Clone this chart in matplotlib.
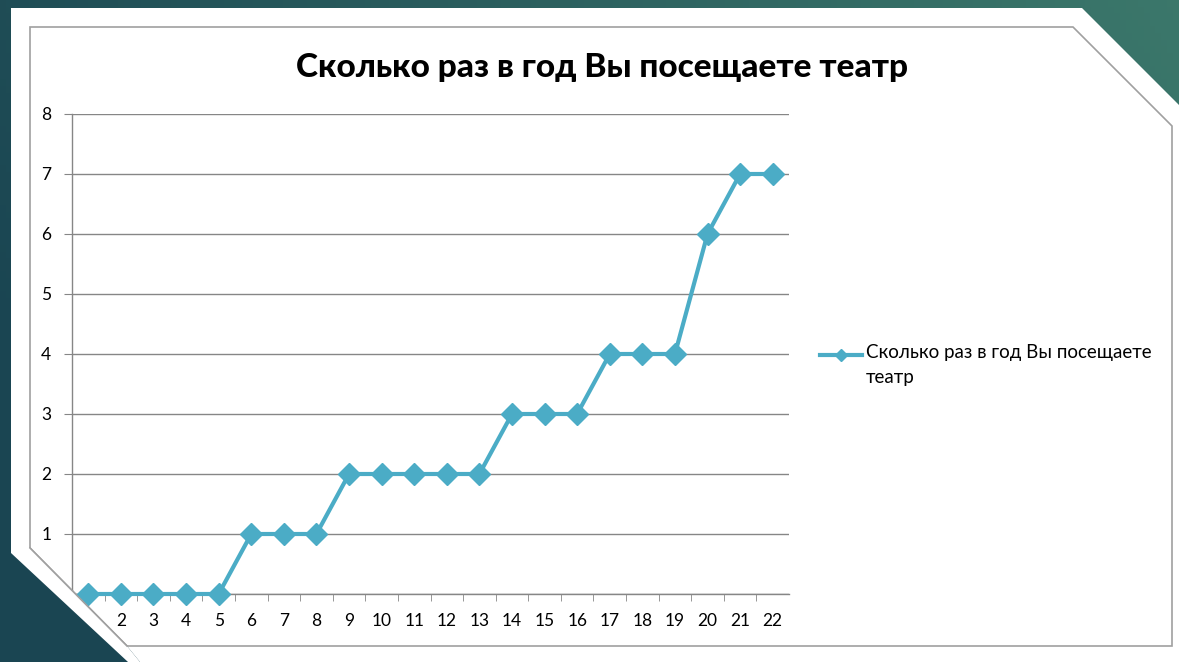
import matplotlib
matplotlib.use("Agg")
import matplotlib.pyplot as plt
import numpy as np
from matplotlib.patches import Polygon

plt.rcParams["font.family"] = ["Lato", "DejaVu Sans"]

TITLE = "Сколько раз в год Вы посещаете театр"
LEGEND_LABEL = "Сколько раз в год Вы посещаете\nтеатр"
categories = [str(i) for i in range(1, 23)]
visits = [0, 0, 0, 0, 0, 1, 1, 1, 2, 2, 2, 2, 2, 3, 3, 3, 4, 4, 4, 6, 7, 7]
yticks = [0, 1, 2, 3, 4, 5, 6, 7, 8]

W, H = 1179, 662
LINE = "#4bacc6"
GRID = "#868686"
EDGE = "#a0a0a0"

fig = plt.figure(figsize=(W / 100, H / 100), dpi=100)

# teal gradient used for the slide background
gx = np.linspace(0, 1, 200)
gy = np.linspace(0, 1, 100)
GX, GY = np.meshgrid(gx, gy)
t = np.clip(0.8 * GX - 0.3 * GY + 0.15, 0, 1)
c0 = np.array([0x1a, 0x45, 0x52]) / 255
c1 = np.array([0x3d, 0x7a, 0x6c]) / 255
img = c0[None, None, :] * (1 - t[..., None]) + c1[None, None, :] * t[..., None]

slide_pts = [(11, 8), (1082, 8), (1179, 105), (1179, 662), (128, 662), (11, 553)]
frame_pts = [(30, 27), (1073, 27), (1172, 126), (1172, 646), (127, 646), (30, 548)]


def pixel_axes(z):
    a = fig.add_axes([0, 0, 1, 1], zorder=z)
    a.set_xlim(0, W)
    a.set_ylim(H, 0)
    a.axis("off")
    a.patch.set_visible(False)
    return a


bg = pixel_axes(0)
bg.imshow(img, extent=[0, W, H, 0], aspect="auto", zorder=0)
bg.add_patch(Polygon(slide_pts, closed=True, fc="white", ec="none", zorder=1))
bg.add_patch(Polygon(frame_pts, closed=True, fc="white", ec=EDGE, lw=1.2, zorder=2))

# legend drawn by hand so the marker sits on the first text line
bg.plot([820, 862], [355, 355], color=LINE, lw=3, zorder=3)
bg.plot([841], [355], marker="D", ms=6.5, color=LINE, zorder=3)
bg.text(866, 344, LEGEND_LABEL, ha="left", va="top", fontsize=13.5,
        linespacing=1.55, zorder=3)

# plot area
x0, x1, ytop, ybot = 72, 789, 114, 594
ax = fig.add_axes([x0 / W, (H - ybot) / H, (x1 - x0) / W, (ybot - ytop) / H], zorder=1)
ax.set_facecolor("none")
xs = np.arange(len(categories))
ax.plot(xs, visits, color=LINE, lw=3, marker="D", ms=11.5, mfc=LINE, mec=LINE,
        zorder=5, clip_on=False)
ax.set_xlim(-0.5, len(categories) - 0.5)
ax.set_ylim(0, 8)
ax.set_yticks(yticks)
ax.set_xticks(xs)
ax.set_xticklabels(categories)
ax.set_xticks(np.arange(0.5, len(categories) - 0.5, 1), minor=True)
ax.tick_params(axis="x", which="major", length=0, pad=14, labelsize=12.5)
ax.tick_params(axis="x", which="minor", length=5, color=GRID, direction="out")
ax.tick_params(axis="y", length=6, color=GRID, pad=9, labelsize=12.5)
ax.grid(axis="y", color=GRID, lw=1)
ax.set_axisbelow(True)
for s in ["top", "right"]:
    ax.spines[s].set_visible(False)
for s in ["left", "bottom"]:
    ax.spines[s].set_color(GRID)
    ax.spines[s].set_linewidth(1)

fig.text(602 / W, 1 - 67 / H, TITLE, ha="center", va="center",
         fontsize=24, fontweight="black")

# the frame's cut bottom-left corner hides whatever lies beyond it
ov = pixel_axes(5)
corner = Polygon([(0, 548), (30, 548), (127, 646), (140, 662), (0, 662)],
                 closed=True, transform=ov.transData)
im = ov.imshow(img, extent=[0, W, H, 0], aspect="auto", zorder=0)
im.set_clip_path(corner)
sl = ov.add_patch(Polygon(slide_pts, closed=True, fc="white", ec="none", zorder=1))
sl.set_clip_path(corner)
ov.plot([30, 127], [548, 646], color=EDGE, lw=1.2, zorder=2)
ov.set_xlim(0, W)
ov.set_ylim(H, 0)

fig.savefig("out.png", dpi=100)
